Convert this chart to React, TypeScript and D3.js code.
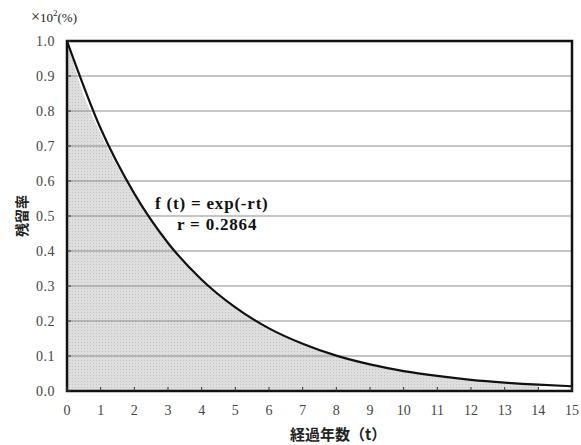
import React, { useRef, useEffect } from 'react';
import * as d3 from 'd3';

// years elapsed and remaining rate
const years = [0, 1, 2, 3, 4, 5, 6, 7, 8, 9, 10, 11, 12, 13, 14, 15];
const fitted = [1.0, 0.75, 0.564, 0.423, 0.318, 0.239, 0.179, 0.135, 0.101, 0.076, 0.057, 0.043, 0.032, 0.024, 0.018, 0.0136];

// shaded (observed) area, sits a little under the curve near the top and stops at 14
const obsYears = [0, 0.5, 1, 2, 3, 4, 5, 6, 7, 8, 9, 10, 11, 12, 13, 14];
const observed = [1.0, 0.845, 0.735, 0.558, 0.42, 0.316, 0.238, 0.178, 0.134, 0.1, 0.075, 0.056, 0.042, 0.031, 0.023, 0.017];

const yTicks = [0, 0.1, 0.2, 0.3, 0.4, 0.5, 0.6, 0.7, 0.8, 0.9, 1.0];
const xTicks = [0, 1, 2, 3, 4, 5, 6, 7, 8, 9, 10, 11, 12, 13, 14, 15];

const W = 581;
const H = 445;
const serif = '"Liberation Serif", "DejaVu Serif", serif';
const jp = '"Noto Sans CJK JP", sans-serif';

const App: React.FC = () => {
  const ref = useRef<SVGSVGElement>(null);

  useEffect(() => {
    const svg = d3.select(ref.current);
    svg.selectAll('*').remove();

    const m = { left: 67, right: 572, top: 41, bottom: 391 };
    const x = d3.scaleLinear().domain([0, 15]).range([m.left, m.right]);
    const y = d3.scaleLinear().domain([0, 1]).range([m.bottom, m.top]);

    const defs = svg.append('defs');
    const pat = defs.append('pattern')
      .attr('id', 'dots')
      .attr('width', 3)
      .attr('height', 3)
      .attr('patternUnits', 'userSpaceOnUse');
    pat.append('rect').attr('width', 3).attr('height', 3).attr('fill', '#dedede');
    pat.append('rect').attr('width', 1).attr('height', 1).attr('fill', '#c2c2c2');

    // shaded area
    const area = d3.area<number>()
      .x((_, i) => x(obsYears[i]))
      .y0(y(0))
      .y1(d => y(d))
      .curve(d3.curveMonotoneX);
    svg.append('path')
      .datum(observed)
      .attr('d', area)
      .attr('fill', 'url(#dots)');

    // grid
    svg.append('g')
      .selectAll('line')
      .data(yTicks.filter(t => t > 0 && t < 1))
      .enter().append('line')
        .attr('x1', m.left)
        .attr('x2', m.right)
        .attr('y1', d => y(d))
        .attr('y2', d => y(d))
        .attr('stroke', '#8c8c8c')
        .attr('stroke-width', 1.2);

    // fitted curve
    const line = d3.line<number>()
      .x((_, i) => x(years[i]))
      .y(d => y(d))
      .curve(d3.curveMonotoneX);
    svg.append('path')
      .datum(fitted)
      .attr('d', line)
      .attr('fill', 'none')
      .attr('stroke', '#111')
      .attr('stroke-width', 2.2);

    // frame
    svg.append('rect')
      .attr('x', m.left)
      .attr('y', m.top)
      .attr('width', m.right - m.left)
      .attr('height', m.bottom - m.top)
      .attr('fill', 'none')
      .attr('stroke', '#111')
      .attr('stroke-width', 2.5);

    // ticks
    svg.append('g')
      .selectAll('line')
      .data(xTicks)
      .enter().append('line')
        .attr('x1', d => x(d))
        .attr('x2', d => x(d))
        .attr('y1', y(0))
        .attr('y2', y(0) - 4)
        .attr('stroke', '#333');
    svg.append('g')
      .selectAll('line')
      .data(yTicks)
      .enter().append('line')
        .attr('x1', m.left)
        .attr('x2', m.left + 4)
        .attr('y1', d => y(d))
        .attr('y2', d => y(d))
        .attr('stroke', '#333');

    // tick labels
    svg.append('g')
      .selectAll('text')
      .data(yTicks)
      .enter().append('text')
        .attr('x', 55)
        .attr('y', d => y(d) + 5)
        .attr('text-anchor', 'end')
        .attr('font-family', serif)
        .attr('font-size', 14)
        .attr('letter-spacing', 0.5)
        .attr('fill', '#444')
        .text(d => d.toFixed(1));
    svg.append('g')
      .selectAll('text')
      .data(xTicks)
      .enter().append('text')
        .attr('x', d => x(d))
        .attr('y', 415)
        .attr('text-anchor', 'middle')
        .attr('font-family', serif)
        .attr('font-size', 14)
        .attr('fill', '#444')
        .text(d => String(d));

    // unit label
    const unit = svg.append('text')
      .attr('x', 31)
      .attr('y', 22)
      .attr('font-family', serif)
      .attr('font-size', 13)
      .attr('fill', '#222');
    unit.append('tspan').attr('font-size', 16).text('×');
    unit.append('tspan').text('10');
    unit.append('tspan').attr('font-size', 9).attr('dy', -6).text('2');
    unit.append('tspan').attr('dy', 6).text('(%)');

    // axis titles
    svg.append('text')
      .attr('transform', `translate(27,${(m.top + m.bottom) / 2}) rotate(-90)`)
      .attr('text-anchor', 'middle')
      .attr('font-family', jp)
      .attr('font-size', 14)
      .attr('font-weight', 'bold')
      .attr('fill', '#222')
      .text('残留率');
    svg.append('text')
      .attr('x', 290)
      .attr('y', 440)
      .attr('font-family', jp)
      .attr('font-size', 15)
      .attr('font-weight', 'bold')
      .attr('fill', '#222')
      .text('経過年数（t）');

    // annotation
    svg.append('text')
      .attr('x', 155)
      .attr('y', 209)
      .attr('font-family', serif)
      .attr('font-size', 17)
      .attr('font-weight', 'bold')
      .attr('letter-spacing', 0.8)
      .attr('fill', '#111')
      .text('f (t) = exp(-rt)');
    svg.append('text')
      .attr('x', 177)
      .attr('y', 230)
      .attr('font-family', serif)
      .attr('font-size', 17)
      .attr('font-weight', 'bold')
      .attr('letter-spacing', 0.8)
      .attr('fill', '#111')
      .text('r = 0.2864');
  }, []);

  return (
    <svg
      ref={ref}
      width={W}
      height={H}
      style={{ position: 'absolute', left: 0, top: 0, background: '#fff' }}
    />
  );
};

export default App;
